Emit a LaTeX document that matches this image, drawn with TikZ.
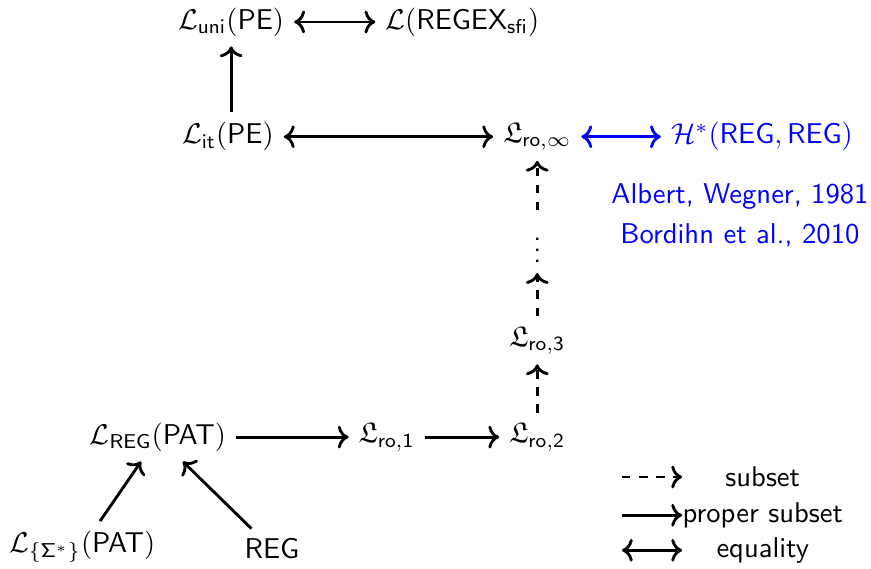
\documentclass[tikz,border=0pt]{standalone}
\usepackage{amssymb}
\usetikzlibrary{arrows.meta,positioning}
\renewcommand{\familydefault}{\sfdefault}

\begin{document}
\begin{tikzpicture}[
    every node/.style={font=\normalsize},
    sub/.style={-{To}, line width=1pt, dashed},
    psub/.style={-{To}, line width=1pt},
    eq/.style={{To}-{To}, line width=1pt},
]
\useasboundingbox (0,0) rectangle (10.70,6.99);

% Top rows
\node (uni) at (2.84,6.72) {$\mathcal{L}_{\mathsf{uni}}(\mathsf{PE})$};
\node (regex) at (5.68,6.72) {$\mathcal{L}(\mathsf{REGEX}_{\mathsf{sfi}})$};
\node (it) at (2.80,5.31) {$\mathcal{L}_{\mathsf{it}}(\mathsf{PE})$};
\node (roinf) at (6.60,5.31) {$\mathfrak{L}_{\mathsf{ro},\infty}$};
\node[text=blue] (hstar) at (9.36,5.31) {$\mathcal{H}^*(\mathsf{REG},\mathsf{REG})$};
\node[text=blue] (albert) at (9.09,4.58) {Albert, Wegner, 1981};
\node[text=blue] (bordihn) at (9.09,4.10) {Bordihn et al., 2010};

\draw[eq] (uni) -- (regex);
\draw[psub] (uni.south |- it.north) -- (uni.south);
\draw[eq] (it) -- (roinf);
\draw[eq, blue] (roinf) -- (hstar);

% Chain of ro classes
\node (dots) at (6.60,4.02) {$\vdots$};
\node (ro3) at (6.60,2.81) {$\mathfrak{L}_{\mathsf{ro,3}}$};
\node (regpat) at (1.94,1.62) {$\mathcal{L}_{\mathsf{REG}}(\mathsf{PAT})$};
\node (ro1) at (4.75,1.62) {$\mathfrak{L}_{\mathsf{ro,1}}$};
\node (ro2) at (6.60,1.62) {$\mathfrak{L}_{\mathsf{ro,2}}$};
\node (sigpat) at (1.01,0.27) {$\mathcal{L}_{\{\mathsf{\Sigma}^*\}}(\mathsf{PAT})$};
\node (reg) at (3.34,0.25) {$\mathsf{REG}$};

\draw[psub] (regpat) -- (ro1);
\draw[psub] (ro1) -- (ro2);
\draw[sub] (ro2) -- (ro3);
\draw[sub] (ro3) -- (dots);
\draw[sub] (dots) -- (roinf);
\draw[psub] (sigpat) -- (regpat);
\draw[psub] (reg) -- (regpat);

% Legend
\coordinate (ls1) at (7.64,1.13);
\coordinate (le1) at (8.38,1.13);
\coordinate (ls2) at (7.64,0.66);
\coordinate (le2) at (8.38,0.66);
\coordinate (ls3) at (7.64,0.23);
\coordinate (le3) at (8.38,0.23);
\draw[sub] (ls1) -- (le1);
\draw[psub] (ls2) -- (le2);
\draw[eq] (ls3) -- (le3);
\node (lsub) at (9.37,1.13) {subset};
\node (lpsub) at (9.37,0.66) {proper subset};
\node (leq) at (9.37,0.23) {equality};
\end{tikzpicture}
\end{document}
